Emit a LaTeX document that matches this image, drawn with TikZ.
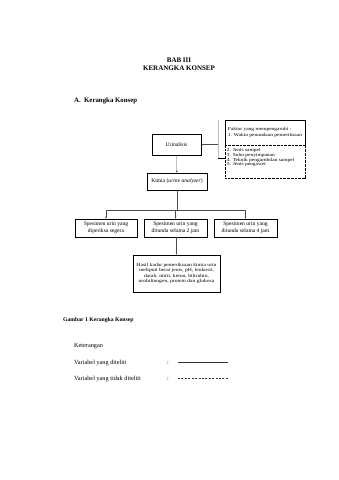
\documentclass[tikz,border=0pt]{standalone}
\usepackage{fontspec}
\setmainfont{Liberation Serif}
\newfontfamily\mywidefont{Liberation Serif}[FakeStretch=1.2]
\usetikzlibrary{arrows.meta,shadows}
\newcommand\mytightls{\lineskiplimit=-10pt\relax}
\begin{document}
\begin{tikzpicture}[x=1.7552pt,y=-1.7552pt,
  box/.style={draw,line width=0.7pt,fill=white,inner sep=1pt,align=center,font={\fontsize{9.8}{11.5}\selectfont},
    drop shadow={shadow xshift=0.8pt,shadow yshift=-0.8pt,fill=black!75,opacity=1}},
  fbox/.style={draw,line width=0.6pt,fill=white,inner xsep=3pt,align=left,
    font={\mywidefont\fontsize{8}{8.2}\selectfont\mytightls}},
  conn/.style={line width=0.45pt,draw=black!70},
  arr/.style={conn,-{Latex[length=3.5pt,width=3pt]}},
  lbl/.style={inner sep=0pt,anchor=base west}]
\useasboundingbox (0,0) rectangle (339,480);
% titles
\node[font={\bfseries\fontsize{12.3}{14}\selectfont},inner sep=0pt] (bab) at (179,60) {BAB III};
\node[font={\bfseries\fontsize{12.3}{14}\selectfont},inner sep=0pt] (kk) at (179,68.5) {KERANGKA KONSEP};
\node[lbl,font={\bfseries\fontsize{12}{14}\selectfont}] (sub) at (74,102.5) {A.\ \ Kerangka Konsep};
% boxes
\node[box,minimum width=86pt,minimum height=36.9pt] (uri) at (176.5,144.5) {Urinalisis};
\node[box,minimum width=105.3pt,minimum height=29.8pt] (kim) at (177,181.5) {Kimia (\textit{urine analyzer})};
\node[box,minimum width=108.8pt,minimum height=31.6pt] (s1) at (106,228) {Spesimen urin yang\\diperiksa segera};
\node[box,minimum width=110.6pt,minimum height=31.6pt] (s2) at (175.5,228) {Spesimen urin yang\\ditunda selama 2 jam};
\node[box,minimum width=110.6pt,minimum height=31.6pt] (s3) at (245.5,228) {Spesimen urin yang\\ditunda selama 4 jam};
\node[box,minimum width=152.7pt,minimum height=64.9pt,font={\mywidefont\fontsize{8.2}{9.3}\selectfont\mytightls}] (res) at (176.5,273.5) {Hasil kadar pemeriksaan kimia urin\\meliputi berat jenis, pH, leukosit,\\darah, nitrit, keton, bilirubin,\\urobilinogen, protein dan glukosa};
% factor boxes
\node[fbox,minimum width=140.4pt,minimum height=43.9pt,font={\mywidefont\fontsize{8}{9.3}\selectfont\mytightls}] (fu) at (265,132.5) {Faktor yang mempengaruhi :\\1. Waktu penundaan pemeriksaan};
\node[fbox,dash pattern=on 1.6pt off 0.8pt,inner ysep=2.5pt] (fl) at (265,161.5) {\parbox[c][52pt][t]{134pt}{\vspace*{3.5pt}2. Jenis sampel\\3. Suhu penyimpanan\\4. Teknik pengambilan sampel\\5. Jenis pengawet}};
% connectors
\coordinate (ja) at (218,120);
\coordinate (jb) at (218,144.5);
\coordinate (jc) at (218,158.5);
\draw[line width=0.3pt,draw=black!25] (ja) -- (jc);
\draw[arr] (jb) -- (jb -| uri.east);
\draw[line width=0.7pt] (jc) -- (jc -| fl.west);
\draw[arr] (uri) -- (kim);
\coordinate (jd) at (177,210.5);
\draw[conn] (kim.south) -- (jd);
\draw[arr] (jd -| s1) -- (s1.north);
\draw[arr] (jd -| s2) -- (s2.north);
\draw[arr] (jd -| s3) -- (s3.north);
\draw[conn] (jd -| s1) -- (jd -| s3);
\draw[arr] (s2.south -| res) -- (res.north);
% caption and legend
\node[lbl,font={\bfseries\fontsize{10}{12}\selectfont}] (cap) at (63,321) {Gambar 1 Kerangka Konsep};
\node[lbl,font={\fontsize{11}{13}\selectfont}] (ket) at (74,347) {Keterangan};
\node[lbl,font={\fontsize{11}{13}\selectfont}] (v1) at (74,364.5) {Variabel yang diteliti};
\node[lbl,font={\fontsize{11}{13}\selectfont}] (c1) at (167,364.5) {:};
\node[lbl,font={\fontsize{11}{13}\selectfont}] (v2) at (74,380.5) {Variabel yang tidak diteliti};
\node[lbl,font={\fontsize{11}{13}\selectfont}] (c2) at (167,380.5) {:};
\coordinate (l1a) at (178,362);
\coordinate (l1b) at (228,362);
\coordinate (l2a) at (178,378);
\coordinate (l2b) at (228,378);
\draw[line width=1pt,draw=black!80] (l1a) -- (l1b);
\draw[line width=0.9pt,draw=black!80,dash pattern=on 3.5pt off 2.5pt] (l2a) -- (l2b);
\end{tikzpicture}
\end{document}
